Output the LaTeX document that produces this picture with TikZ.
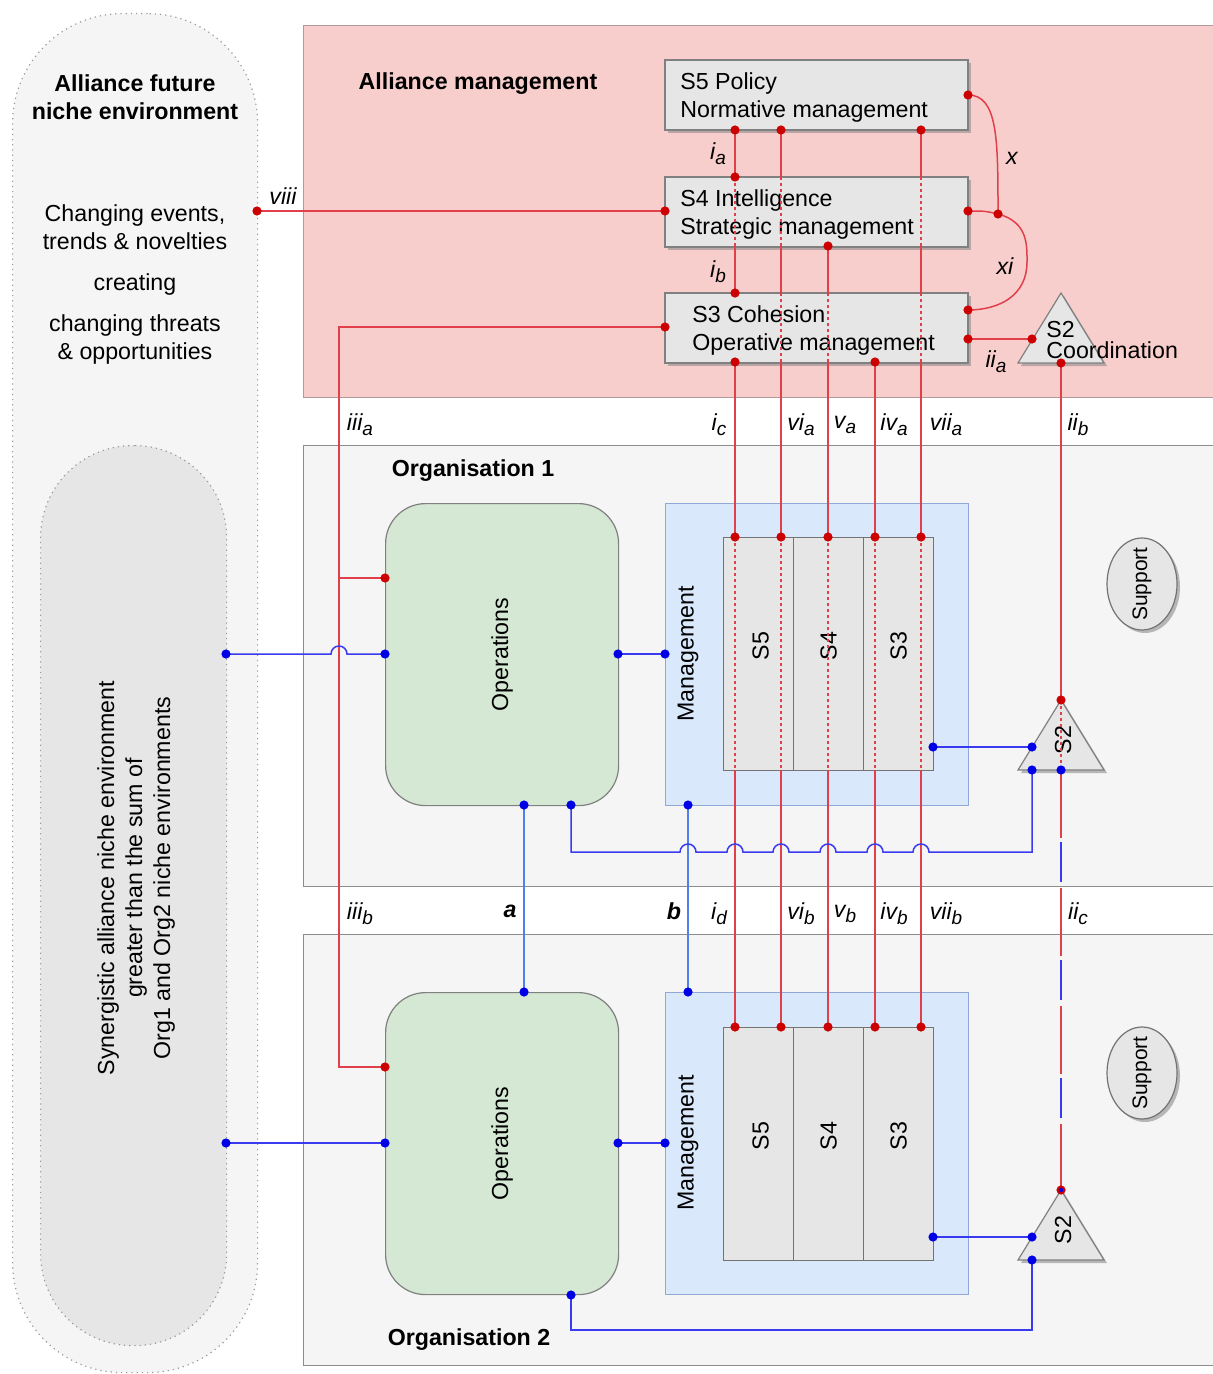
\documentclass[tikz,border=0pt]{standalone}
\usepackage{fontspec}
\setmainfont{Liberation Sans}
\usetikzlibrary{shadows,shapes.geometric,calc}

\definecolor{almbg}{HTML}{F8CECC}
\definecolor{almline}{HTML}{B29A9A}
\definecolor{envbg}{HTML}{F5F5F5}
\definecolor{synbg}{HTML}{E6E6E6}
\definecolor{boxbg}{HTML}{E6E6E6}
\definecolor{opsbg}{HTML}{D5E8D4}
\definecolor{mgmtbg}{HTML}{DAE8FC}
\definecolor{mgmtline}{HTML}{90A8D8}
\definecolor{frame}{HTML}{8C8C8C}
\definecolor{redln}{HTML}{E0404A}
\definecolor{reddot}{HTML}{CC0000}
\definecolor{blueln}{HTML}{3A3AF0}
\definecolor{bluedot}{HTML}{0000E6}
\definecolor{bluelt}{HTML}{5080F0}

\newcommand\sublab[2]{\textit{#1}\raisebox{-0.4ex}{\fontsize{9.5}{10}\selectfont\itshape #2}}

\tikzset{
  env/.style={draw=black!40, dotted, line width=0.6pt, inner sep=0pt, anchor=north west},
  panel/.style={draw=frame, line width=0.6pt, inner sep=0pt, anchor=north west},
  shade/.style={drop shadow={shadow xshift=1.5pt, shadow yshift=-1.5pt, fill=black!45, opacity=0.6}},
  sbox/.style={draw=black!50, fill=boxbg, line width=0.6pt, inner sep=0pt, outer sep=0pt,
    anchor=north west, minimum width=151.5pt, minimum height=35pt, shade},
  opsbox/.style={draw=black!50, fill=opsbg, line width=0.6pt, rounded corners=20pt, inner sep=0pt,
    anchor=north west, minimum width=116.5pt, minimum height=151pt},
  mgmtbox/.style={draw=mgmtline, fill=mgmtbg, line width=0.6pt, inner sep=0pt,
    anchor=north west, minimum width=151.5pt, minimum height=151pt},
  scol/.style={draw=black!55, fill=boxbg, line width=0.6pt, inner sep=0pt,
    anchor=north west, minimum width=35pt, minimum height=116.5pt},
  supp/.style={ellipse, draw=black!55, fill=boxbg, line width=0.6pt, inner sep=0pt,
    minimum width=35pt, minimum height=46pt, shade},
  tri/.style={draw=black!50, fill=boxbg, line width=0.6pt, shade},
  txt/.style={inner sep=0pt},
  ttl/.style={inner sep=0pt, font=\bfseries\fontsize{11.6}{14}\selectfont},
  lab/.style={inner sep=0pt, font=\fontsize{11.6}{14}\selectfont\itshape},
  rl/.style={draw=redln, line width=0.75pt},
  rdotted/.style={draw=redln, line width=0.75pt, dash pattern=on 1.5pt off 1.5pt},
  bl/.style={draw=blueln, line width=0.75pt},
  blt/.style={draw=bluelt, line width=0.75pt},
  rdot/.style={fill=reddot},
  bdot/.style={fill=bluedot},
}

\begin{document}
\begin{tikzpicture}[x=0.5pt,y=-0.5pt,font=\fontsize{11.6}{14}\selectfont]
\useasboundingbox (0,0) rectangle (1213,1374);

% ---------------- environments on the left
\node[env, fill=envbg, rounded corners=55pt, minimum width=122.5pt, minimum height=679.5pt] (future) at (12,13) {};
\node[env, fill=synbg, rounded corners=46pt, minimum width=93pt, minimum height=450pt] (synergy) at (40,445) {};

\node[ttl, align=center] (futuretitle) at (135,97) {Alliance future\\niche environment};
\node[txt, align=center] (events) at (135,227) {Changing events,\\trends \& novelties};
\node[txt] (creating) at (135,285) {creating};
\node[txt, align=center] (threats) at (135,340) {changing threats\\\& opportunities};
\node[txt, rotate=90, align=center] (syntext) at (136,878)
  {Synergistic alliance niche environment\\greater than the sum of\\Org1 and Org2 niche environments};

% ---------------- panels
\node[panel, fill=almbg, draw=almline, minimum width=455pt, minimum height=186pt] (alliance) at (303,25) {};
\node[panel, fill=envbg, minimum width=455pt, minimum height=220.5pt] (org1) at (303,445) {};
\node[panel, fill=envbg, minimum width=455pt, minimum height=215.5pt] (org2) at (303,934) {};

\node[ttl] (alliancetitle) at (478,84) {Alliance management};
\node[ttl] (org1title) at (473,471) {Organisation 1};
\node[ttl] (org2title) at (469,1340) {Organisation 2};

% ---------------- alliance management systems
\node[sbox] (s5) at (665,60) {};
\node[sbox] (s4) at (665,177) {};
\node[sbox] (s3) at (665,293) {};
\node[txt, align=left, anchor=west] (s5text) at (680,98) {S5 Policy\\Normative management};
\node[txt, align=left, anchor=west] (s4text) at (680,215) {S4 Intelligence\\Strategic management};
\node[txt, align=left, anchor=west] (s3text) at (692,331) {S3 Cohesion\\Operative management};

\coordinate (cA) at (1061,293);
\coordinate (cL) at (1018,363);
\coordinate (cR) at (1104,363);
\path[tri] (cL) -- (cA) -- (cR) -- cycle;
\node[txt, align=left, anchor=west, font=\fontsize{11.6}{10.5}\selectfont] (s2coord) at (1046,340) {S2\\Coordination};

% ---------------- organisations
\foreach \o/\y in {1/503,2/992}{
  \node[opsbox] (ops\o) at (385,\y) {};
  \node[txt, rotate=90] (ops\o text) at (ops\o.center) {Operations};
  \node[mgmtbox] (mg\o) at (665,\y) {};
  \node[txt, rotate=90] (mg\o text) at (688,\y+151) {Management};
}
\foreach \o/\y in {1/537,2/1027}{
  \node[scol] (o\o c5) at (723,\y) {};
  \node[scol] (o\o c4) at (793,\y) {};
  \node[scol] (o\o c3) at (863,\y) {};
  \node[txt, rotate=90] (o\o l5) at ($(o\o c5.center)+(2,-8)$) {S5};
  \node[txt, rotate=90] (o\o l4) at ($(o\o c4.center)+(0,-8)$) {S4};
  \node[txt, rotate=90] (o\o l3) at ($(o\o c3.center)+(0,-8)$) {S3};
}
\node[supp] (sup1) at (1142,584) {};
\node[supp] (sup2) at (1142,1073) {};
\node[txt, rotate=90, font=\fontsize{10.5}{12}\selectfont] (sup1text) at (sup1.center) {Support};
\node[txt, rotate=90, font=\fontsize{10.5}{12}\selectfont] (sup2text) at (sup2.center) {Support};

% S2 coordination triangles of the organisations
\coordinate (t1A) at (1061,700);
\coordinate (t1L) at (1018,770);
\coordinate (t1R) at (1104,770);
\path[tri] (t1L) -- (t1A) -- (t1R) -- cycle;
\node[txt, rotate=90] (t1text) at (1063,740) {S2};
\coordinate (t2A) at (1061,1190);
\coordinate (t2L) at (1018,1260);
\coordinate (t2R) at (1104,1260);
\path[tri] (t2L) -- (t2A) -- (t2R) -- cycle;
\node[txt, rotate=90] (t2text) at (1063,1230) {S2};

% ---------------- red channels through the systems
\foreach \n/\x in {1/735,2/781,3/828,4/875,5/921}{
  \coordinate (k\n-a) at (\x,130);
  \coordinate (k\n-b) at (\x,177);
  \coordinate (k\n-c) at (\x,246);
  \coordinate (k\n-d) at (\x,293);
  \coordinate (k\n-e) at (\x,362);
  \coordinate (k\n-f) at (\x,537);
  \coordinate (k\n-g) at (\x,770);
  \coordinate (k\n-h) at (\x,1027);
}
\foreach \n in {1,2,5}{
  \draw[rl] (k\n-a) -- (k\n-b);
  \draw[rdotted] (k\n-b) -- (k\n-c);
  \draw[rl] (k\n-c) -- (k\n-d);
}
\foreach \n in {2,3,5}{
  \draw[rdotted] (k\n-d) -- (k\n-e);
}
\draw[rl] (k3-c) -- (k3-d);
\foreach \n in {1,...,5}{
  \draw[rl] (k\n-e) -- (k\n-f);
  \draw[rdotted] (k\n-f) -- (k\n-g);
  \draw[rl] (k\n-g) -- (k\n-h);
}

% feedback loops x and xi
\coordinate (s5r) at (968,95);
\coordinate (s4r) at (968,211);
\coordinate (s3r) at (968,310);
\coordinate (xj) at (998,214);
\draw[rl] (s5r) .. controls (998,95) and (998,140) .. (xj);
\draw[rl] (s4r) .. controls (985,211) .. (xj) .. controls (1028,222) and (1027,245) .. (1027,262)
   .. controls (1027,295) and (1000,310) .. (s3r);

% S3 to S2 coordination
\coordinate (s3c) at (968,339);
\coordinate (cS) at (1032,339);
\draw[rl] (s3c) -- (cS);

% S2 coordination down to the organisations
\coordinate (cB) at (1061,363);
\coordinate (t1B) at (1061,770);
\draw[rl] (cB) -- (t1A);
\draw[rdotted] (t1A) -- (t1B);
\draw[draw=redln, line width=0.75pt, dash pattern=on 34pt off 25pt] (t1B) -- (t2A);
\draw[draw=blueln, line width=0.75pt, dash pattern=on 20pt off 39pt, dash phase=23pt] (t1B) -- (t2A);

% viii: environment to S4
\coordinate (envR) at (257,211);
\coordinate (s4l) at (665,211);
\draw[rl] (envR) -- (s4l);

% iii: S3 to operations
\coordinate (s3l) at (665,327);
\coordinate (op1r) at (385,578);
\coordinate (op2r) at (385,1067);
\draw[rl] (s3l) -- (339,327) -- (339,1067) -- (op2r);
\draw[rl] (339,578) -- (op1r);

% ---------------- blue channels
\coordinate (syn1) at (226,654);
\coordinate (syn2) at (226,1143);
\coordinate (op1L) at (385,654);
\coordinate (op2L) at (385,1143);
\coordinate (op1R) at (618,654);
\coordinate (op2R) at (618,1143);
\coordinate (mg1L) at (665,654);
\coordinate (mg2L) at (665,1143);
\coordinate (op1Ba) at (524,805);
\coordinate (op1Bb) at (571,805);
\coordinate (mg1B) at (688,805);
\coordinate (op2T) at (524,992);
\coordinate (mg2T) at (688,992);
\coordinate (op2B) at (571,1295);
\coordinate (in1R) at (933,747);
\coordinate (in2R) at (933,1237);
\coordinate (t1S) at (1032,747);
\coordinate (t2S) at (1032,1237);
\coordinate (t1Bl) at (1032,770);
\coordinate (t2Bl) at (1032,1260);

\draw[bl] (syn1) -- (331,654) arc[start angle=180, end angle=0, radius=4pt] -- (op1L);
\draw[bl] (syn2) -- (op2L);
\draw[bl] (op1R) -- (mg1L);
\draw[bl] (op2R) -- (mg2L);
\draw[blt] (op1Ba) -- (op2T);
\draw[blt] (mg1B) -- (mg2T);
\draw[bl] (in1R) -- (t1S);
\draw[bl] (in2R) -- (t2S);
\draw[bl] (op1Bb) -- (571,852) -- (680,852) arc[start angle=180, end angle=0, radius=4pt]
  -- (727,852) arc[start angle=180, end angle=0, radius=4pt]
  -- (773,852) arc[start angle=180, end angle=0, radius=4pt]
  -- (820,852) arc[start angle=180, end angle=0, radius=4pt]
  -- (867,852) arc[start angle=180, end angle=0, radius=4pt]
  -- (913,852) arc[start angle=180, end angle=0, radius=4pt]
  -- (1032,852) -- (t1Bl);
\draw[bl] (op2B) |- (1032,1330) -- (t2Bl);

% ---------------- connection dots
\foreach \p in {k1-a,k1-b,k1-d,k1-e,k2-a,k3-c,k4-e,k5-a,
                k1-f,k2-f,k3-f,k4-f,k5-f,k1-h,k2-h,k3-h,k4-h,k5-h,
                s5r,s4r,s3r,xj,s3c,cS,cB,t1A,envR,s4l,s3l,op1r,op2r,t2A}
  \fill[rdot] (\p) circle (2.3pt);
\fill[bdot] (t2A) circle (1.1pt);
\foreach \p in {syn1,syn2,op1L,op2L,op1R,op2R,mg1L,mg2L,op1Ba,op1Bb,mg1B,op2T,mg2T,op2B,
                in1R,in2R,t1S,t2S,t1Bl,t2Bl,t1B}
  \fill[bdot] (\p) circle (2.3pt);

% ---------------- channel labels
\node[lab] (lia) at (718,154) {\sublab{i}{a}};
\node[lab] (lib) at (718,272) {\sublab{i}{b}};
\node[lab] (lx) at (1012,158) {x};
\node[lab] (lxi) at (1005,266) {xi};
\node[lab] (liia) at (996,362) {\sublab{ii}{a}};
\node[lab] (lviii) at (283,196) {viii};

\node[lab] (liiia) at (360,425) {\sublab{iii}{a}};
\node[lab] (lic) at (719,425) {\sublab{i}{c}};
\node[lab] (lvia) at (801,425) {\sublab{vi}{a}};
\node[lab] (lva) at (845,425) {\sublab{v}{a}};
\node[lab] (liva) at (894,425) {\sublab{iv}{a}};
\node[lab] (lviia) at (946,425) {\sublab{vii}{a}};
\node[lab] (liib) at (1078,425) {\sublab{ii}{b}};

\node[lab] (liiib) at (360,914) {\sublab{iii}{b}};
\node[lab, font=\bfseries\itshape\fontsize{11.6}{14}\selectfont] (la) at (510,911) {a};
\node[lab, font=\bfseries\itshape\fontsize{11.6}{14}\selectfont] (lb) at (674,911) {b};
\node[lab] (lid) at (719,914) {\sublab{i}{d}};
\node[lab] (lvib) at (801,914) {\sublab{vi}{b}};
\node[lab] (lvb) at (845,914) {\sublab{v}{b}};
\node[lab] (livb) at (894,914) {\sublab{iv}{b}};
\node[lab] (lviib) at (946,914) {\sublab{vii}{b}};
\node[lab] (liic) at (1078,914) {\sublab{ii}{c}};
\end{tikzpicture}
\end{document}
